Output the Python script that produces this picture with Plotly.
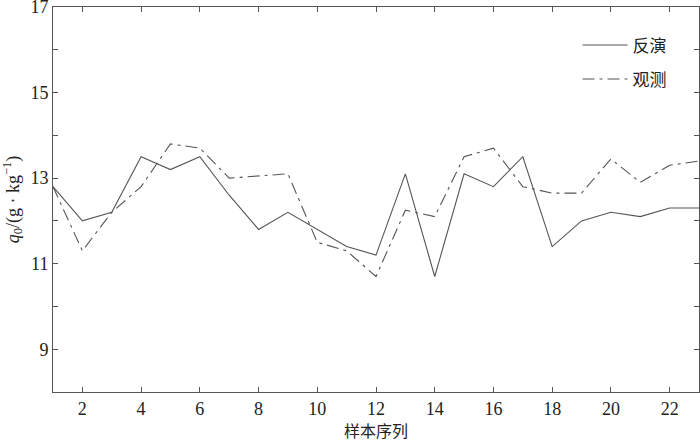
import plotly.graph_objects as go

x = list(range(1, 24))
inversion = [12.8, 12.0, 12.2, 13.5, 13.2, 13.5, 12.6, 11.8, 12.2, 11.8, 11.4, 11.2,
             13.1, 10.7, 13.1, 12.8, 13.5, 11.4, 12.0, 12.2, 12.1, 12.3, 12.3]
observed = [12.8, 11.3, 12.2, 12.8, 13.8, 13.7, 13.0, 13.05, 13.1, 11.5, 11.3, 10.7,
            12.25, 12.1, 13.5, 13.7, 12.8, 12.65, 12.65, 13.45, 12.9, 13.3, 13.4]
series_names = ["反演", "观测"]
x_ticks = list(range(2, 23, 2))
y_ticks = [9, 11, 13, 15, 17]

line_color = "#555555"
serif = "Liberation Serif"
cjk = "Noto Sans CJK SC"

fig = go.Figure()
fig.add_trace(go.Scatter(x=x, y=inversion, mode="lines", name=series_names[0],
                         legendgroup="a",
                         line=dict(color=line_color, width=1.1)))
fig.add_trace(go.Scatter(x=x, y=observed, mode="lines", name=series_names[1],
                         legendgroup="b",
                         line=dict(color=line_color, width=1.1, dash="12px,5px,3px,5px")))

axis_common = dict(showgrid=False, zeroline=False, showline=True, linecolor=line_color,
                   linewidth=1, mirror="ticks", ticks="inside", ticklen=5, automargin=False,
                   ticklabeloverflow="allow",
                   tickcolor=line_color, tickfont=dict(family=serif, size=18, color="#222"))

fig.update_xaxes(range=[1, 23], tickvals=x_ticks, **axis_common,
                 title=dict(text="样本序列", font=dict(family=cjk, size=16, color="#222"),
                            standoff=2))
fig.update_yaxes(range=[8, 17], tickvals=list(range(9, 18)),
                 ticktext=[str(v) if v in y_ticks else "" for v in range(9, 18)],
                 **axis_common,
                 title=dict(text="<i>q</i><sub>0</sub>/(g · kg<sup>−1</sup>)",
                            font=dict(family=serif, size=18, color="#222"), standoff=6))

fig.update_layout(
    width=700, height=442,
    margin=dict(l=53, r=1, t=7, b=50),
    plot_bgcolor="white", paper_bgcolor="white",
    showlegend=True,
    legend=dict(x=0.812, y=0.947, xanchor="left", yanchor="top",
                font=dict(family=cjk, size=17, color="#222"),
                bgcolor="rgba(0,0,0,0)", tracegroupgap=9, itemwidth=45),
)

fig.write_html("out.html", config={"displayModeBar": False},
               post_script="document.body.style.margin='0';document.body.style.overflow='hidden';")
